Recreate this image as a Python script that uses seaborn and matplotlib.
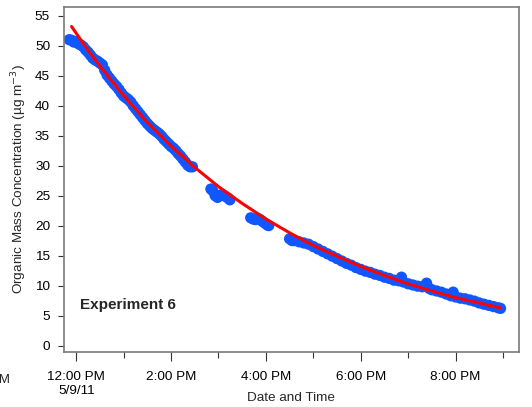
import numpy as np
import pandas as pd
import seaborn as sns
import matplotlib
matplotlib.use("Agg")
import matplotlib.pyplot as plt
import matplotlib.dates as mdates
from matplotlib.ticker import FuncFormatter, MultipleLocator

# measured organic mass, hours of day on 5/9/11
obs_hours = [11.85, 11.90, 11.95, 12.00, 12.05, 12.10, 12.15, 12.20, 12.25, 12.30,
             12.35, 12.40, 12.45, 12.50, 12.55, 12.60, 12.65, 12.70, 12.75, 12.80,
             12.85, 12.90, 12.95, 13.00, 13.05, 13.10, 13.15, 13.20, 13.25, 13.30,
             13.35, 13.40, 13.45, 13.50, 13.55, 13.60, 13.65, 13.70, 13.75, 13.80,
             13.85, 13.90, 13.95, 14.00, 14.05, 14.10, 14.15, 14.20, 14.25, 14.30,
             14.35, 14.40, 14.45,
             14.84, 14.88, 14.93, 14.98, 15.03, 15.08, 15.14, 15.20, 15.24,
             15.68, 15.73, 15.78, 15.83, 15.88, 15.93, 15.98, 16.03, 16.06,
             16.50, 16.55, 16.60, 16.70, 16.80, 16.90, 17.00, 17.10, 17.20, 17.30,
             17.40, 17.50, 17.60, 17.70, 17.80, 17.90, 18.00, 18.10, 18.20, 18.30,
             18.40, 18.50, 18.60, 18.70, 18.80, 18.86, 18.90, 19.00, 19.10, 19.20,
             19.30, 19.39, 19.45, 19.50, 19.60, 19.70, 19.80, 19.90, 19.95, 20.00,
             20.10, 20.20, 20.30, 20.40, 20.50, 20.60, 20.70, 20.80, 20.90, 20.95]
obs_conc = [51.0, 50.9, 50.6, 50.7, 50.3, 50.1, 49.8, 49.3, 48.9, 48.4,
            47.9, 47.6, 47.4, 47.1, 46.8, 45.9, 45.1, 44.6, 44.1, 43.6,
            43.2, 42.7, 42.1, 41.6, 41.3, 41.0, 40.6, 40.0, 39.5, 39.0,
            38.5, 38.0, 37.5, 37.0, 36.6, 36.2, 35.9, 35.6, 35.3, 34.9,
            34.4, 34.0, 33.6, 33.2, 32.9, 32.5, 32.0, 31.6, 31.1, 30.6,
            30.1, 29.8, 29.8,
            26.1, 25.8, 25.0, 24.7, 25.0, 25.2, 24.9, 24.6, 24.3,
            21.3, 21.1, 21.0, 21.2, 21.0, 20.7, 20.4, 20.1, 20.0,
            17.8, 17.5, 17.5, 17.3, 17.1, 16.9, 16.5, 16.1, 15.7, 15.3,
            14.9, 14.5, 14.1, 13.7, 13.4, 13.0, 12.7, 12.4, 12.2, 11.9,
            11.7, 11.4, 11.2, 10.9, 10.8, 11.4, 10.6, 10.3, 10.1, 9.9,
            9.8, 10.4, 9.5, 9.3, 9.1, 8.9, 8.6, 8.3, 8.9, 8.1,
            7.9, 7.8, 7.6, 7.4, 7.1, 6.9, 6.7, 6.5, 6.3, 6.2]

# fitted decay curve (red)
fit_hours = [11.90, 12.25, 12.50, 13.00, 13.50, 14.00, 14.50, 15.00, 15.50, 16.00,
             16.50, 17.00, 17.50, 18.00, 18.50, 19.00, 19.50, 20.00, 20.50, 20.94]
fit_conc = [53.2, 49.2, 46.6, 41.7, 37.2, 33.3, 29.7, 26.5, 23.7, 21.1,
            18.8, 16.7, 14.9, 13.2, 11.7, 10.3, 9.1, 8.0, 7.1, 6.3]

day = pd.Timestamp("2011-05-09")
obs = pd.DataFrame({"time": day + pd.to_timedelta(obs_hours, unit="h"), "conc": obs_conc})
fit = pd.DataFrame({"time": day + pd.to_timedelta(fit_hours, unit="h"), "conc": fit_conc})

sns.set_style("white")
plt.rcParams["font.family"] = ["Liberation Sans", "DejaVu Sans"]
plt.rcParams["font.size"] = 9.7

fig = plt.figure(figsize=(5.32, 4.07), dpi=100)
ax = fig.add_axes([0.1197, 0.1351, 0.8559, 0.8477])

sns.scatterplot(data=obs, x="time", y="conc", ax=ax, s=66, color="#1157ff",
                edgecolor="none", linewidth=0, zorder=2)
sns.lineplot(data=fit, x="time", y="conc", ax=ax, color="#ff0000", linewidth=2.2,
             zorder=3)

ax.set_xlim(day + pd.Timedelta(hours=11.734), day + pd.Timedelta(hours=21.34))
ax.set_ylim(-1.08, 56.45)
ax.yaxis.set_major_locator(MultipleLocator(5))

ax.xaxis.set_major_locator(mdates.HourLocator(byhour=range(0, 24, 2)))
ax.xaxis.set_minor_locator(mdates.HourLocator())

def fmt_time(x, pos=None):
    t = mdates.num2date(x)
    s = t.strftime("%I:%M %p").lstrip("0")
    if t.hour == 12:
        s += "\n5/9/11"
    return s

ax.xaxis.set_major_formatter(FuncFormatter(fmt_time))

for sp in ax.spines.values():
    sp.set_color("#7a7a7a")
    sp.set_linewidth(1.2)

ax.tick_params(axis="both", which="both", direction="out", color="#333333",
               width=0.8, labelsize=9.7, labelcolor="black")
ax.tick_params(axis="y", which="major", length=4.3, pad=5.5, left=True)
ax.tick_params(axis="x", which="major", length=6.5, pad=7, bottom=True)
ax.tick_params(axis="x", which="minor", length=4.3, bottom=True)

# clipped label of the 10:00 AM tick, which lies left of the frame
ax.text(mdates.date2num(day + pd.Timedelta(hours=10)), -0.064, "10:00 AM",
        transform=ax.get_xaxis_transform(), ha="center", va="top",
        fontsize=9.7, clip_on=False)

ax.set_xlabel("Date and Time", fontsize=9.7, labelpad=-3)
ax.set_ylabel("Organic Mass Concentration (µg m$^{-3}$)", fontsize=9.7, labelpad=4)

ax.text(0.036, 0.137, "Experiment 6", transform=ax.transAxes, fontsize=11,
        fontweight="bold", ha="left", va="center")

fig.savefig("out.png", dpi=100)
